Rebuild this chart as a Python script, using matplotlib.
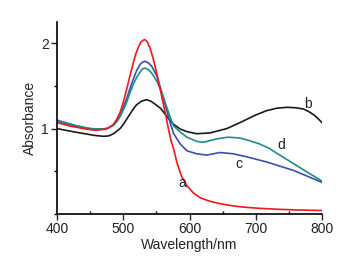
import matplotlib
matplotlib.use("Agg")
import matplotlib.pyplot as plt
from matplotlib.ticker import MultipleLocator

plt.rcParams['font.family'] = ['Liberation Sans', 'DejaVu Sans']

# curve a (red)
wl_a = [400, 420, 440, 458, 470, 478, 485, 490, 495, 500, 505, 510, 515, 519, 523, 527, 532, 536, 540, 544, 548, 552, 556, 560, 564, 568, 572, 576, 581, 588, 596, 606, 616, 630, 646, 665, 681, 705, 732, 760, 800]
ab_a = [1.07, 1.03, 1.0, 0.98, 0.99, 1.01, 1.05, 1.11, 1.19, 1.31, 1.46, 1.62, 1.77, 1.88, 1.96, 2.02, 2.045, 2.02, 1.95, 1.85, 1.73, 1.59, 1.45, 1.30, 1.16, 1.0, 0.86, 0.76, 0.60, 0.44, 0.33, 0.245, 0.19, 0.15, 0.12, 0.095, 0.08, 0.066, 0.055, 0.047, 0.04]
# curve b (black)
wl_b = [400, 427, 457, 470, 478, 485, 490, 495, 500, 505, 510, 515, 520, 527, 535, 542, 549, 556, 563, 570, 576, 586, 596, 611, 631, 656, 676, 700, 716, 732, 747, 760, 772, 780, 788, 795, 800]
ab_b = [1.0, 0.96, 0.92, 0.91, 0.915, 0.94, 0.97, 1.0, 1.05, 1.11, 1.17, 1.23, 1.28, 1.32, 1.34, 1.32, 1.28, 1.24, 1.17, 1.10, 1.05, 0.995, 0.965, 0.94, 0.95, 1.0, 1.07, 1.16, 1.21, 1.24, 1.25, 1.245, 1.23, 1.20, 1.16, 1.11, 1.07]
# curve c (blue)
wl_c = [400, 427, 450, 465, 475, 480, 485, 490, 495, 500, 505, 510, 515, 520, 525, 529, 533, 538, 543, 547, 551, 556, 561, 566, 571, 576, 586, 596, 611, 626, 646, 666, 686, 716, 757, 800]
ab_c = [1.09, 1.03, 1.0, 0.995, 1.0, 1.02, 1.04, 1.09, 1.15, 1.25, 1.35, 1.47, 1.58, 1.68, 1.75, 1.78, 1.79, 1.77, 1.73, 1.67, 1.61, 1.48, 1.34, 1.20, 1.06, 0.94, 0.82, 0.74, 0.705, 0.69, 0.72, 0.705, 0.67, 0.61, 0.51, 0.37]
# curve d (teal)
wl_d = [400, 427, 450, 465, 475, 480, 485, 490, 495, 500, 505, 510, 515, 520, 525, 529, 533, 538, 543, 547, 551, 556, 561, 566, 571, 576, 586, 596, 611, 621, 641, 658, 676, 690, 706, 720, 732, 757, 782, 800]
ab_d = [1.10, 1.04, 1.0, 0.995, 1.0, 1.02, 1.04, 1.08, 1.14, 1.22, 1.31, 1.42, 1.52, 1.60, 1.66, 1.70, 1.71, 1.69, 1.65, 1.60, 1.55, 1.46, 1.36, 1.24, 1.13, 1.03, 0.96, 0.90, 0.85, 0.84, 0.88, 0.90, 0.89, 0.86, 0.82, 0.77, 0.71, 0.59, 0.47, 0.385]

labels = ['a', 'b', 'c', 'd']
label_pos_x = [589, 779, 675, 738]
label_pos_y = [0.36, 1.29, 0.58, 0.81]

fig = plt.figure(figsize=(3.57, 2.59), dpi=100)
ax = fig.add_axes([0.160, 0.174, 0.742, 0.741])

ax.plot(wl_b, ab_b, color='#1a1a1a', lw=1.2)
ax.plot(wl_c, ab_c, color='#3a4fb0', lw=1.2)
ax.plot(wl_d, ab_d, color='#1e8c88', lw=1.2)
ax.plot(wl_a, ab_a, color='#f01818', lw=1.2)

for t, x, y in zip(labels, label_pos_x, label_pos_y):
    ax.text(x, y, t, fontsize=10, ha='center', va='center', color='#222222')

ax.set_xlim(400, 800)
ax.set_ylim(0, 2.25)
ax.spines['top'].set_visible(False)
ax.spines['right'].set_visible(False)
ax.xaxis.set_major_locator(MultipleLocator(100))
ax.xaxis.set_minor_locator(MultipleLocator(50))
ax.yaxis.set_minor_locator(MultipleLocator(0.5))
ax.set_yticks([1, 2])
ax.tick_params(axis='both', which='major', direction='out', length=4, width=1, labelsize=10, pad=2, colors='#222222')
ax.tick_params(axis='x', which='minor', direction='in', length=2.5, width=1)
ax.tick_params(axis='y', which='minor', direction='out', length=2.5, width=1)
for s in ['left', 'bottom']:
    ax.spines[s].set_linewidth(1.2)
ax.set_xlabel('Wavelength/nm', fontsize=10, labelpad=1, color='#222222')
ax.set_ylabel('Absorbance', fontsize=10, labelpad=3, color='#222222')

fig.savefig('out.png', dpi=100)
